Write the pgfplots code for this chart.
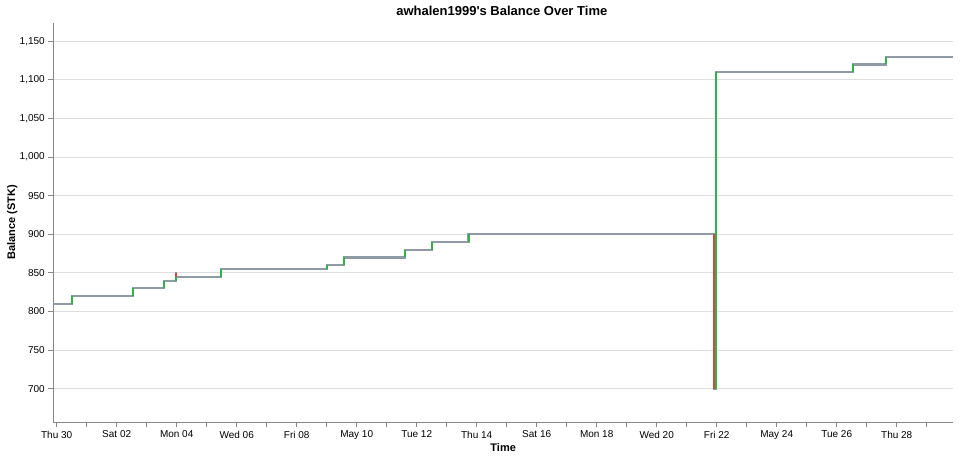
\documentclass[border=0pt]{standalone}
\usepackage{pgfplots}
\pgfplotsset{compat=1.18}
\usepackage{fontspec}
\setmainfont{Liberation Sans}
\definecolor{axisgray}{HTML}{888888}
\definecolor{gridgray}{HTML}{DDDDDD}
\definecolor{linegray}{HTML}{8F9AA5}
\definecolor{upgreen}{HTML}{2DB34A}
\definecolor{downred}{HTML}{D9453A}
\begin{document}
\begin{tikzpicture}[x=1pt,y=1pt]
\useasboundingbox (0,0) rectangle (960,459);
\begin{axis}[
  at={(53.3pt,36.7pt)}, anchor=south west,
  width=899.7pt, height=399.6pt, scale only axis,
  xmin=-0.113, xmax=29.877,
  ymin=656.5, ymax=1174.1,
  axis lines=left,
  axis line style={draw=axisgray, line width=1pt, -},
  tick align=outside,
  major tick length=5pt,
  tick style={draw=axisgray, line width=1pt},
  xtick={0,1,...,29},
  xticklabels={Thu 30,,Sat 02,,Mon 04,,Wed 06,,Fri 08,,May 10,,Tue 12,,Thu 14,,Sat 16,,Mon 18,,Wed 20,,Fri 22,,May 24,,Tue 26,,Thu 28,},
  ytick={700,750,...,1150},
  ymajorgrids,
  grid style={draw=gridgray, line width=1pt},
  /pgf/number format/assume math mode=true,
  /pgf/number format/1000 sep={,},
  tick label style={font=\fontsize{10}{12}\selectfont, text=black},
  title={awhalen1999\textquotesingle s Balance Over Time},
  every axis title/.style={font=\bfseries\fontsize{13}{15}\selectfont, at={(axis description cs:0.4985,1.0175)}, anchor=base},
  xlabel={Time},
  xlabel style={font=\bfseries\fontsize{11}{13}\selectfont, at={(axis description cs:0.5,-0.0643)}, anchor=center},
  ylabel={Balance (STK)},
  ylabel style={font=\bfseries\fontsize{11}{13}\selectfont, at={(axis description cs:-0.0456,0.5)}, anchor=center, rotate=0},
  unbounded coords=jump,
  clip=true,
]
\addplot[const plot, draw=linegray, line width=2.2pt] coordinates {
 (-0.113,810) (0.51,820) (2.55,830) (3.58,840) (3.98,850) (3.99,845) (5.49,855)
 (9.00,860) (9.59,870) (11.61,880) (12.52,890) (13.73,900) (21.92,700)
 (21.98,1110) (26.54,1120) (27.63,1130) (29.877,1130)
};
\addplot[draw=upgreen, line width=2pt] coordinates {
 (0.51,810) (0.51,820) (0.51,nan)
 (2.55,820) (2.55,830) (2.55,nan)
 (3.58,830) (3.58,840) (3.58,nan)
 (3.98,840) (3.98,850) (3.98,nan)
 (5.49,845) (5.49,855) (5.49,nan)
 (9.00,855) (9.00,860) (9.00,nan)
 (9.59,860) (9.59,870) (9.59,nan)
 (11.61,870) (11.61,880) (11.61,nan)
 (12.52,880) (12.52,890) (12.52,nan)
 (13.73,890) (13.73,900) (13.73,nan)
 (21.98,700) (21.98,1110) (21.98,nan)
 (26.54,1110) (26.54,1120) (26.54,nan)
 (27.63,1120) (27.63,1130)
};
\addplot[draw=downred, line width=2pt] coordinates {
 (3.99,850) (3.99,845) (3.99,nan)
 (21.92,900) (21.92,700)
};
\end{axis}
\end{tikzpicture}
\end{document}
